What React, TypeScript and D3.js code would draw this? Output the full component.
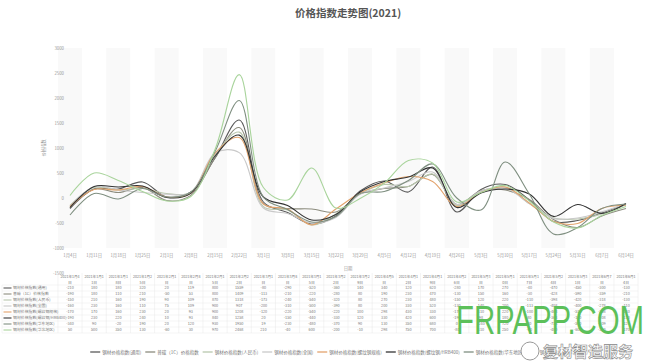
import { useEffect, useRef } from 'react';
import * as d3 from 'd3';

const W = 649;
const H = 362;

const dates = [
  '1月4日', '1月11日', '1月18日', '1月25日', '2月1日', '2月8日', '2月15日', '2月22日',
  '3月1日', '3月8日', '3月15日', '3月22日', '3月29日', '4月5日', '4月12日', '4月19日',
  '4月26日', '5月3日', '5月10日', '5月17日', '5月24日', '5月31日', '6月7日', '6月14日',
];

const seriesNames = [
  '钢材价格指数(通用)',
  '普碳（1C）价格指数',
  '钢材价格指数(人民币)',
  '钢材价格指数(全国)',
  '钢材价格指数(螺纹钢规格)',
  '钢材价格指数(螺纹钢/HRB400)',
  '钢材价格指数(华东地区)',
  '钢材价格指数(华北地区)',
];

const seriesColors = ['#5a5a5a', '#8c8c7e', '#b9c7ad', '#c9c9c9', '#e3a36c', '#333333', '#7f8f80', '#a9d49c'];

const s1 = [-210, 180, 180, 320, 20, 119, 800, 1559, -80, -290, -520, -360, 140, 340, 120, 620, -280, 170, 270, -40, -470, -450, -300, -130];
const s2 = [-190, 180, 110, 210, -50, 53, 800, 1409, -113, -210, -220, -280, 80, 190, 230, 470, -130, 150, 160, -30, -428, -590, -359, -210];
const s3 = [-150, 210, 160, 190, 90, 109, 870, 1318, -173, -240, -540, -320, 80, 270, 230, 480, -150, 120, 220, -110, -398, -420, -318, -130];
const s4 = [-160, 230, 160, 110, 75, 109, 900, 907, -200, -310, -500, -390, 80, 200, 330, 520, -130, 140, 200, -113, -408, -400, -278, -110];
const s5 = [-170, 170, 160, 230, 20, 93, 900, 1208, -120, -220, -540, -220, 100, 298, 430, 330, -170, 110, 220, -100, -468, -510, -208, -140];
const s6 = [-190, 230, 220, 240, 10, 93, 840, 1258, 20, -150, -440, -330, 120, 330, 420, 600, -190, 98, 180, 80, -368, -130, -308, -110];
const s7 = [-340, 90, -20, 190, 20, 120, 930, 1950, 19, -230, -480, -370, 90, 130, 350, 680, 0, -240, 720, 80, -718, -590, -209, -120];
const s8 = [50, 500, 350, 130, -60, 30, 970, 2468, 210, -40, 600, -200, -10, 298, 750, 700, -80, 110, 250, -60, -480, -600, -350, -170];

const seriesValues = [s1, s2, s3, s4, s5, s6, s7, s8];
const yTicks = [3000, 2500, 2000, 1500, 1000, 500, 0, -500, -1000, -1500];

const FONT = '"Noto Sans CJK SC", "Noto Sans", sans-serif';

const App = () => {
  const svgRef = useRef<SVGSVGElement>(null);

  useEffect(() => {
    const svg = d3.select(svgRef.current);
    svg.selectAll('*').remove();
    svg.attr('font-family', FONT);

    const x = d3.scalePoint<string>().domain(dates).range([70, 626]);
    const step = x.step();
    const y = d3.scaleLinear().domain([-1500, 3000]).range([273, 48]);
    const plotLeft = x(dates[0])! - step / 2;
    const plotRight = x(dates[dates.length - 1])! + step / 2;

    // title
    svg.append('text')
      .attr('x', 348).attr('y', 17)
      .attr('text-anchor', 'middle')
      .attr('font-size', 10.5).attr('font-weight', 'bold')
      .attr('fill', '#555')
      .text('价格指数走势图(2021)');

    // faint stripes
    svg.append('g').selectAll('rect')
      .data(dates)
      .enter().append('rect')
      .attr('x', d => x(d)! - step / 2)
      .attr('y', y(3000))
      .attr('width', step)
      .attr('height', y(-1000) - y(3000))
      .attr('fill', (d, i) => (i % 2 === 0 ? '#f9f9f9' : '#ffffff'));

    // y tick labels
    svg.append('g').selectAll('text')
      .data(yTicks)
      .enter().append('text')
      .attr('x', 64).attr('y', d => y(d) + 1.5)
      .attr('text-anchor', 'end')
      .attr('font-size', 4.3).attr('fill', '#999')
      .text(d => d);

    svg.append('text')
      .attr('transform', `translate(45, ${y(1000)}) rotate(-90)`)
      .attr('text-anchor', 'middle')
      .attr('font-size', 4.3).attr('fill', '#999')
      .text('价格指数');

    // x labels
    svg.append('g').selectAll('text')
      .data(dates)
      .enter().append('text')
      .attr('x', d => x(d)!).attr('y', 257)
      .attr('text-anchor', 'middle')
      .attr('font-size', 4.3).attr('fill', '#999')
      .text(d => d);

    svg.append('text')
      .attr('x', (plotLeft + plotRight) / 2).attr('y', 270)
      .attr('text-anchor', 'middle')
      .attr('font-size', 4.3).attr('fill', '#999')
      .text('日期');

    // lines
    const line = d3.line<number>()
      .x((d, i) => x(dates[i])!)
      .y(d => y(d))
      .curve(d3.curveCatmullRom.alpha(0.5));

    svg.append('g').selectAll('path')
      .data(seriesValues)
      .enter().append('path')
      .attr('d', d => line(d))
      .attr('fill', 'none')
      .attr('stroke', (d, i) => seriesColors[i])
      .attr('stroke-width', 1.1);

    // data table
    const tTop = 273;
    const headH = 12;
    const rowH = 6;
    const table = svg.append('g').attr('font-size', 3.8).attr('fill', '#777');
    const tBottom = tTop + headH + rowH * seriesValues.length;

    table.selectAll('.vline')
      .data(d3.range(dates.length + 1))
      .enter().append('line')
      .attr('x1', i => plotLeft + i * step).attr('x2', i => plotLeft + i * step)
      .attr('y1', tTop).attr('y2', tBottom)
      .attr('stroke', '#e2e2e2').attr('stroke-width', 0.4);

    table.selectAll('.hline')
      .data(d3.range(seriesValues.length + 1))
      .enter().append('line')
      .attr('x1', 2).attr('x2', plotRight)
      .attr('y1', i => tTop + headH + i * rowH).attr('y2', i => tTop + headH + i * rowH)
      .attr('stroke', '#e2e2e2').attr('stroke-width', 0.4);

    table.append('line')
      .attr('x1', 2).attr('x2', 2).attr('y1', tTop + headH).attr('y2', tBottom)
      .attr('stroke', '#e2e2e2').attr('stroke-width', 0.4);

    const heads = dates.map(d => `2021年${d}`);
    table.selectAll('.h1')
      .data(heads)
      .enter().append('text')
      .attr('x', (d, i) => x(dates[i])!).attr('y', tTop + 5)
      .attr('text-anchor', 'middle')
      .attr('font-size', 3.6)
      .text(d => d.slice(0, 8));
    table.selectAll('.h2')
      .data(heads)
      .enter().append('text')
      .attr('x', (d, i) => x(dates[i])!).attr('y', tTop + 10.5)
      .attr('text-anchor', 'middle')
      .text(d => d.slice(8));

    seriesValues.forEach((vals, r) => {
      const cy = tTop + headH + r * rowH + rowH / 2;
      table.append('line')
        .attr('x1', 3.5).attr('x2', 11.5).attr('y1', cy).attr('y2', cy)
        .attr('stroke', seriesColors[r]).attr('stroke-width', 1.1);
      table.append('text')
        .attr('x', 13).attr('y', cy + 1.4)
        .attr('font-size', 3.9)
        .text(seriesNames[r]);
      table.selectAll(`.v${r}`)
        .data(vals)
        .enter().append('text')
        .attr('x', (d, i) => x(dates[i])!).attr('y', cy + 1.4)
        .attr('text-anchor', 'middle')
        .text(d => d);
    });

    // legend
    const legend = svg.append('g').attr('font-size', 4.5).attr('fill', '#777');
    const tmp = svg.append('text').attr('font-size', 4.5);
    const widths = seriesNames.map(n => {
      tmp.text(n);
      return (tmp.node() as SVGTextElement).getComputedTextLength();
    });
    tmp.remove();
    const itemW = widths.map(w => 12 + w + 4);
    const total = d3.sum(itemW);
    let lx = 341 - total / 2;
    seriesNames.forEach((n, i) => {
      legend.append('line')
        .attr('x1', lx).attr('x2', lx + 10).attr('y1', 352).attr('y2', 352)
        .attr('stroke', seriesColors[i]).attr('stroke-width', 1.3);
      legend.append('text')
        .attr('x', lx + 12).attr('y', 353.6)
        .text(n);
      lx += itemW[i];
    });

    // watermark
    svg.append('text')
      .attr('x', 456).attr('y', 334)
      .attr('font-size', 40)
      .attr('font-family', '"Liberation Sans", Arial, sans-serif')
      .attr('textLength', 188).attr('lengthAdjust', 'spacingAndGlyphs')
      .attr('fill', '#5cc05a')
      .text('FRPAPP.COM');
    svg.append('circle')
      .attr('cx', 530).attr('cy', 351).attr('r', 9)
      .attr('fill', '#fff').attr('stroke', '#999').attr('stroke-width', 1);
    svg.append('text')
      .attr('x', 543).attr('y', 357)
      .attr('font-size', 15).attr('font-weight', 'bold')
      .attr('fill', '#fff').attr('stroke', '#888').attr('stroke-width', 0.6)
      .text('复材智造服务');
  }, []);

  return (
    <div style={{ position: 'absolute', left: 0, top: 0, width: W, height: H, background: '#fff' }}>
      <svg ref={svgRef} width={W} height={H}></svg>
    </div>
  );
};

export default App;
